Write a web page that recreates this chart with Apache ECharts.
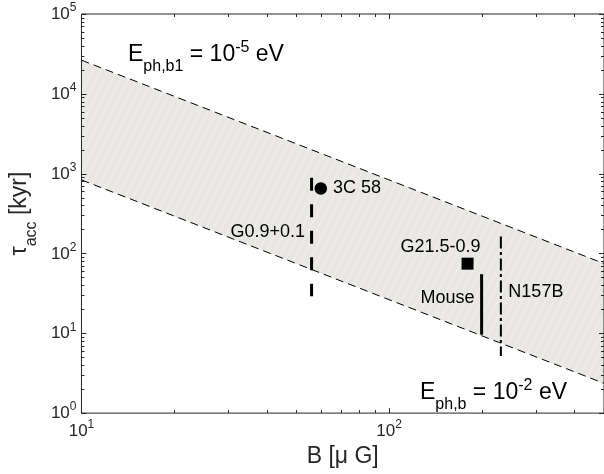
<!DOCTYPE html>
<html><head><meta charset="utf-8">
<script src="https://cdn.jsdelivr.net/npm/echarts@6/dist/echarts.min.js"></script>
<style>html,body{margin:0;padding:0;background:#fff}#c{width:604px;height:474px}</style>
</head><body><div id="c"></div>
<script>
// ---- data ----
const bandB = [10, 500];
const bandUpper = [26400, 74.7];   // E_ph,b1 = 1e-5 eV
const bandLower = [834, 2.36];     // E_ph,b = 1e-2 eV

const pointNames = ['3C 58', 'G21.5-0.9'];
const pointB = [60, 180];
const pointTau = [652, 74.5];

const rangeNames = ['G0.9+0.1', 'Mouse', 'N157B'];
const rangeB = [56, 200, 231];
const rangeTauHigh = [890, 55, 163];
const rangeTauLow = [29, 9.6, 5.2];

const xMajorTicks = [10, 100];
const xMinorTicks = [20, 30, 40, 50, 60, 70, 80, 90, 200, 300, 400];
const yMajorTicks = [1, 10, 100, 1000, 10000, 100000];
const yMinorTicks = [2, 3, 4, 5, 6, 7, 8, 9,
  20, 30, 40, 50, 60, 70, 80, 90,
  200, 300, 400, 500, 600, 700, 800, 900,
  2000, 3000, 4000, 5000, 6000, 7000, 8000, 9000,
  20000, 30000, 40000, 50000, 60000, 70000, 80000, 90000];

// ---- styles ----
const FONT = 'Liberation Sans, Arial, Helvetica, sans-serif';
const AXC = '#262626';
const X_MIN = 10, X_MAX = 500, Y_MIN = 1, Y_MAX = 100000;
const pointStyle = [
  {symbol: 'circle', size: 12.5, label: {position: 'right', distance: 6, offset: [0, 0]}},
  {symbol: 'rect', size: 12, label: {position: 'top', distance: 2, offset: [-27, 0]}}
];
const rangeStyle = [
  {lineWidth: 3, lineDash: [13, 13.5], align: 'right', dx: -6.5, dy: 54},
  {lineWidth: 3, lineDash: null, align: 'right', dx: -7, dy: 24},
  {lineWidth: 2, lineDash: [12, 3.5, 3, 3.5], align: 'left', dx: 7.5, dy: 56}
];

// hatched fill pattern for the band
const tile = document.createElement('canvas');
tile.width = 8; tile.height = 16;
(function () {
  const g = tile.getContext('2d');
  g.fillStyle = '#e8e7e4';
  g.fillRect(0, 0, 8, 16);
  g.strokeStyle = 'rgba(255,255,255,0.35)';
  g.lineWidth = 1;
  g.beginPath();
  g.moveTo(-1, 18); g.lineTo(9, -2);
  g.stroke();
})();

const labelFmt = v => '{b|10}{s|' + Math.round(Math.log10(v)) + '}';
const tickRich = {
  b: {fontSize: 17, lineHeight: 24, padding: [4, 0, 0, 0], verticalAlign: 'top', fontFamily: FONT, color: AXC},
  s: {fontSize: 12, verticalAlign: 'top', fontFamily: FONT, color: AXC}
};

const baseAxis = {
  type: 'log', logBase: 10,
  splitLine: {show: false},
  axisLine: {show: false, onZero: false},
  axisTick: {show: false},
  minorTick: {show: false}
};

const xAxis = Object.assign({}, baseAxis, {
  min: X_MIN, max: X_MAX, position: 'bottom',
  axisLabel: {show: true, customValues: xMajorTicks, formatter: labelFmt, rich: tickRich, margin: 6},
  name: 'B [\u03bc G]', nameLocation: 'middle', nameGap: 26,
  nameTextStyle: {fontSize: 23, lineHeight: 24, fontFamily: FONT, color: AXC}
});
const yAxis = Object.assign({}, baseAxis, {
  min: Y_MIN, max: Y_MAX, position: 'left',
  axisLabel: {show: true, customValues: yMajorTicks, formatter: labelFmt, rich: tickRich, margin: 5},
  name: '{t|\u03c4}{sub|acc}{t| [kyr]}', nameLocation: 'middle', nameRotate: 90, nameGap: 22,
  nameTextStyle: {
    rich: {
      t: {fontSize: 23, padding: [3, 0, 0, 0], verticalAlign: 'top', fontFamily: FONT, color: AXC},
      sub: {fontSize: 16, lineHeight: 35, verticalAlign: 'bottom', fontFamily: FONT, color: AXC}
    }
  }
});

const annRich = {
  m: {fontSize: 23, padding: [3, 0, 0, 0], verticalAlign: 'top', fontFamily: FONT, fill: '#000', color: '#000'},
  sub: {fontSize: 16, lineHeight: 35, verticalAlign: 'bottom', fontFamily: FONT, fill: '#000', color: '#000'},
  sup: {fontSize: 16, verticalAlign: 'top', fontFamily: FONT, fill: '#000', color: '#000'}
};

// tick marks drawn through the axes' own scales, on all four sides (inward)
function tickSeries(values, dim, len) {
  return {
    type: 'custom', z: 10, silent: true,
    data: values.map(v => dim === 'x' ? [v, Y_MIN] : [X_MIN, v]),
    renderItem: function (params, api) {
      const cs = params.coordSys;
      const p = api.coord([api.value(0), api.value(1)]);
      const st = {stroke: AXC, lineWidth: 1};
      if (dim === 'x') {
        const x = Math.round(p[0]) + 0.5;
        const yb = cs.y + cs.height, yt = cs.y;
        return {type: 'group', children: [
          {type: 'line', shape: {x1: x, y1: yb, x2: x, y2: yb - len}, style: st},
          {type: 'line', shape: {x1: x, y1: yt, x2: x, y2: yt + len}, style: st}
        ]};
      }
      const y = Math.round(p[1]) + 0.5;
      const xl = cs.x, xr = cs.x + cs.width;
      return {type: 'group', children: [
        {type: 'line', shape: {x1: xl, y1: y, x2: xl + len, y2: y}, style: st},
        {type: 'line', shape: {x1: xr, y1: y, x2: xr - len, y2: y}, style: st}
      ]};
    }
  };
}

const chart = echarts.init(document.getElementById('c'), null, {renderer: 'canvas'});
chart.setOption({
  animation: false,
  backgroundColor: '#fff',
  grid: {left: 81, top: 14, right: -3, bottom: 53.5, containLabel: false,
         show: true, borderColor: AXC, borderWidth: 1, backgroundColor: 'transparent', z: 12},
  xAxis: xAxis,
  yAxis: yAxis,
  graphic: [
    {type: 'text', x: 128, y: 40, z: 100,
     style: {text: '{m|E}{sub|ph,b1}{m| = 10}{sup|-5}{m| eV}', rich: annRich, verticalAlign: 'top', align: 'left'}},
    {type: 'text', x: 420, y: 378, z: 100,
     style: {text: '{m|E}{sub|ph,b}{m| = 10}{sup|-2}{m| eV}', rich: annRich, verticalAlign: 'top', align: 'left'}}
  ],
  series: [
    {
      type: 'custom', name: 'band', z: 1, silent: true,
      data: bandB.map((b, i) => [b, bandUpper[i], bandLower[i]]),
      renderItem: function (params, api) {
        if (params.dataIndex !== 0) return null;
        const pts = [];
        for (let i = 0; i < bandB.length; i++) pts.push(api.coord([bandB[i], bandUpper[i]]));
        for (let i = bandB.length - 1; i >= 0; i--) pts.push(api.coord([bandB[i], bandLower[i]]));
        return {type: 'polygon', shape: {points: pts}, style: {fill: {image: tile, repeat: 'repeat'}}};
      }
    },
    {
      type: 'line', name: 'upper', z: 2, symbol: 'none', silent: true,
      data: bandB.map((b, i) => [b, bandUpper[i]]),
      lineStyle: {color: '#000', width: 1, type: [8, 5]}
    },
    {
      type: 'line', name: 'lower', z: 2, symbol: 'none', silent: true,
      data: bandB.map((b, i) => [b, bandLower[i]]),
      lineStyle: {color: '#000', width: 1, type: [8, 5]}
    },
    {
      type: 'custom', name: 'ranges', z: 3, silent: true,
      data: rangeB.map((b, i) => [b, rangeTauHigh[i], rangeTauLow[i], i]),
      renderItem: function (params, api) {
        const i = api.value(3);
        const p1 = api.coord([api.value(0), api.value(1)]);
        const p2 = api.coord([api.value(0), api.value(2)]);
        const st = rangeStyle[i];
        return {
          type: 'group',
          children: [
            {type: 'line', shape: {x1: p1[0], y1: p1[1], x2: p2[0], y2: p2[1]},
             style: {stroke: '#000', lineWidth: st.lineWidth, lineDash: st.lineDash}},
            {type: 'text', x: p1[0] + st.dx, y: p1[1] + st.dy,
             style: {text: rangeNames[i], fontSize: 18, fontFamily: FONT, fill: '#000',
                     align: st.align, verticalAlign: 'middle'}}
          ]
        };
      }
    },
    {
      type: 'scatter', name: 'points', z: 4, silent: true,
      data: pointB.map((b, i) => ({
        value: [b, pointTau[i]],
        symbol: pointStyle[i].symbol,
        symbolSize: pointStyle[i].size,
        label: Object.assign({show: true, formatter: pointNames[i], fontSize: 18, lineHeight: 18,
                              fontFamily: FONT, color: '#000'}, pointStyle[i].label)
      })),
      itemStyle: {color: '#000', opacity: 1}
    },
    tickSeries(xMajorTicks, 'x', 5),
    tickSeries(xMinorTicks, 'x', 3),
    tickSeries(yMajorTicks, 'y', 5),
    tickSeries(yMinorTicks, 'y', 3)
  ]
});
</script>
</body></html>
